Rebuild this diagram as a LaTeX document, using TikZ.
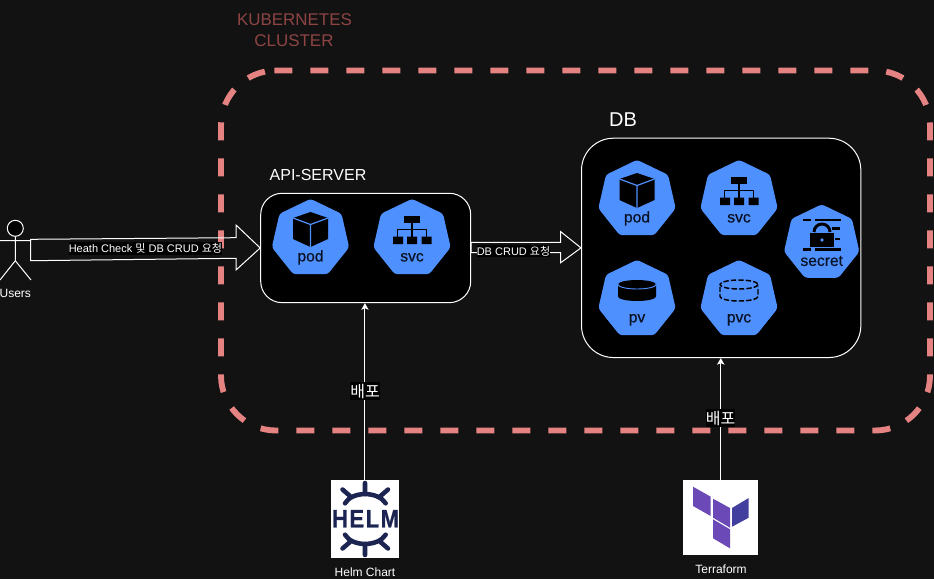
\documentclass[tikz,border=0pt]{standalone}
\usepackage{fontspec}
\setmainfont{Liberation Sans}
\newfontfamily\krfont{Noto Sans CJK KR}
\newfontfamily\helmfont[LetterSpace=7,FakeBold=0.8]{Liberation Sans Bold}
\newfontfamily\kubefont[FakeBold=0.7]{Liberation Sans}
\usetikzlibrary{shapes.geometric,arrows.meta,calc}
\definecolor{bgdark}{HTML}{121212}
\definecolor{kubeblue}{HTML}{4F90FF}
\definecolor{kubeink}{HTML}{0A1226}
\definecolor{clusterdash}{HTML}{E58282}
\definecolor{clustertext}{HTML}{8F4444}
\definecolor{helmnavy}{HTML}{1C2452}
\definecolor{tfpurple}{HTML}{6B4AB8}
\definecolor{tfdark}{HTML}{423F9E}
\tikzset{
  x=.75pt,y=-.75pt,
  panel/.style={draw=white,line width=.75pt,fill=black,rounded corners=#1},
  hept/.style={regular polygon,regular polygon sides=7,minimum size=59.5pt,inner sep=0pt,outer sep=0pt,fill=kubeblue,rounded corners=2.2pt},
  kubelabel/.style={text=kubeink,font=\kubefont\fontsize{11.7}{13}\selectfont,text height=.72em,text depth=.21em,inner sep=0pt},
  caption/.style={text=white,font=\fontsize{9}{11}\selectfont,inner sep=0pt},
  title/.style={text=white,inner sep=0pt},
  flowlabel/.style={text=white,fill=black,inner xsep=0pt,inner ysep=1pt,font=\fontsize{8.25}{10}\selectfont},
  deploy/.style={text=white,fill=black,inner xsep=0pt,inner ysep=1pt,font=\krfont\fontsize{12}{14}\selectfont},
  flow/.style={draw=white,line width=.75pt,line join=miter},
  deployline/.style={draw=white,line width=.75pt,-{Stealth[length=5pt,width=5.5pt,inset=1.2pt]}},
  logobox/.style={fill=white,draw=none,inner sep=0pt,outer sep=0pt},
  helmline/.style={draw=helmnavy,line width=3.4pt,line cap=round},
  seam/.style={draw=kubeblue,line width=.9pt},
}
\newcommand{\hepta}[5][]{%
  \node[hept,#1] (#2) at (#3,#4) {};
  \node[kubelabel] (#2label) at ($(#2.center)+(0,19.5)$) {#5};
}
\newcommand{\podicon}[2]{\begin{scope}[shift={(#1,#2)}]
  \fill[black] (0,-26.5) -- (17.5,-20.5) -- (17.5,0.5) -- (0,8.5) -- (-17.5,0.5) -- (-17.5,-20.5) -- cycle;
  \draw[seam] (-17.5,-20.5) -- (0,-14) -- (17.5,-20.5) (0,-14) -- (0,8.5);
\end{scope}}
\newcommand{\svcicon}[2]{\begin{scope}[shift={(#1,#2)}]
  \fill[black] (-8.3,-23) rectangle (8.3,-16);
  \fill[black] (-19,-2) rectangle (-9,5.5) (-5,-2) rectangle (5,5.5) (9.5,-2) rectangle (19.5,5.5);
  \draw[black,line width=1pt] (0,-16) -- (0,-2) (-14.5,-2) -- (-14.5,-9) -- (14.5,-9) -- (14.5,-2);
\end{scope}}
\newcommand{\pvicon}[2]{\begin{scope}[shift={(#1,#2)}]
  \fill[black] (-19,-15) -- (-19,-3) arc[start angle=180,end angle=0,x radius=19,y radius=4.5] -- (19,-15) arc[start angle=0,end angle=-180,x radius=19,y radius=4.5] -- cycle;
  \draw[seam,line width=.7pt] (-19,-15) arc[start angle=180,end angle=0,x radius=19,y radius=4.5];
\end{scope}}
\newcommand{\pvcicon}[2]{\begin{scope}[shift={(#1,#2)}]
  \draw[black,line width=1.1pt,dash pattern=on 4pt off 1.6pt] (0,-15) ellipse[x radius=19,y radius=4.5];
  \draw[black,line width=1.1pt,dash pattern=on 4pt off 1.6pt] (-19,-13) -- (-19,-3) arc[start angle=180,end angle=0,x radius=19,y radius=4.5] -- (19,-13);
\end{scope}}
\begin{document}
\begin{tikzpicture}
\useasboundingbox (0,0) rectangle (934,579);
\fill[bgdark] (0,0) rectangle (934,579);

% cluster
\draw[clusterdash,line width=4.4pt,dash pattern=on 13.5pt off 13.5pt]
  (274.3,70.5) -- (875,70.5) arc[start angle=-90,end angle=0,radius=55]
  -- (930,375.5) arc[start angle=0,end angle=90,radius=55]
  -- (276,430.5) arc[start angle=90,end angle=180,radius=55]
  -- (221,125.5) arc[start angle=180,end angle=270,radius=55] -- (274.3,70.5);
\node[text=clustertext,font=\fontsize{12.7}{15}\selectfont,inner sep=0pt] (clusterA) at (294.5,20) {KUBERNETES};
\node[text=clustertext,font=\fontsize{12.7}{15}\selectfont,inner sep=0pt] (clusterB) at (294,41) {CLUSTER};

% panels
\node[panel=16pt,minimum width=157.5pt,minimum height=82pt,inner sep=0pt,anchor=north west] (api) at (260.2,192.8) {};
\node[panel=24pt,minimum width=209.5pt,minimum height=164.5pt,inner sep=0pt,anchor=north west] (db) at (581,137.7) {};
\node[title,font=\fontsize{12}{13}\selectfont] (apititle) at (318,175) {API-SERVER};
\node[title,font=\fontsize{15}{17}\selectfont] (dbtitle) at (623,120) {DB};

% API icons
\hepta{apipod}{310.5}{238.5}{pod}\podicon{310.5}{238.5}
\hepta{apisvc}{412}{238.5}{svc}\svcicon{412}{238.5}
% DB icons
\hepta{dbpod}{637}{199.5}{pod}\podicon{637}{199.5}
\hepta{dbsvc}{739}{199.5}{svc}\svcicon{739}{199.5}
\hepta{dbpv}{637}{299.5}{pv}\pvicon{637}{299.5}
\hepta{dbpvc}{739}{299.5}{pvc}\pvcicon{739}{299.5}
\hepta[minimum size=58pt]{dbsecret}{821.7}{243}{secret}
% secret glyph
\fill[black] (810,233) rectangle (834,247.2);
\fill[kubeblue] (822,240) circle[radius=1.8];
\draw[black,line width=2.2pt] (814,232) arc[start angle=180,end angle=360,radius=8];
\draw[black,line width=2.2pt] (802.7,220) -- (810.7,220) (815,220) -- (840.7,220)
  (802.7,249.5) -- (810.7,249.5) (815,249.5) -- (840.7,249.5)
  (832,228.5) -- (840,228.5) (835,239) -- (840,239);

% users
\coordinate (head) at (15.3,228.3);
\node[draw=white,fill=black,line width=.75pt,circle,minimum size=12pt,inner sep=0pt] (userhead) at (head) {};
\coordinate (hip) at (15.3,260.7);
\coordinate (armL) at (0,240.7);
\coordinate (armR) at (31,240.7);
\coordinate (legL) at (0,280);
\coordinate (legR) at (31,280);
\draw[white,line width=.75pt] (userhead.south) -- (hip) (armL) -- (armR) (legL) -- (hip) -- (legR);
\node[caption] (users) at (15.3,293.7) {Users};

% big flow arrows
\coordinate (usertail) at (30.7,250);
\draw[flow] ($(usertail)+(0,-10.7)$) -- (236,237.7) -- (236,225) -- (api.west) -- (236,270) -- (236,258.3) -- ($(usertail)+(0,10.7)$) -- cycle;
\node[flowlabel] (flowA) at (145.4,248.3) {Heath Check {\krfont 및} DB CRUD {\krfont 요청}};
\draw[flow] (api.east |- 0,242.3) -- (560.7,242.3) -- (560.7,231.7) -- (db.west) -- (560.7,262.7) -- (560.7,252.7) -- (api.east |- 0,252.7) -- cycle;
\node[flowlabel] (flowB) at (513.5,251) {DB CRUD {\krfont 요청}};

% logos
\node[logobox,minimum width=50.6pt,minimum height=58.3pt,anchor=north west] (helm) at (331.2,480) {};
\node[logobox,minimum width=56.2pt,minimum height=56.2pt,anchor=north west] (tf) at (683.3,480) {};

\draw[deployline] (helm.north) -- (helm.north |- api.south);
\draw[deployline] (tf.north) -- (tf.north |- db.south);
\node[deploy] (deployA) at (365,391) {배포};
\node[deploy] (deployB) at (720.5,418) {배포};

% helm logo
\node[text=helmnavy,font=\helmfont\fontsize{16.5}{20}\selectfont,inner sep=0pt] (helmword) at (365.5,518.7) {\scalebox{1}[1.14]{HELM}};
\draw[helmline] (365,483) -- (365,494) (342.5,489.5) -- (350,496) (388,489.5) -- (380.5,496);
\draw[helmline] (345,503.3) .. controls (352,491) and (378,491) .. (385.7,503.3);
\draw[helmline] (365,555) -- (365,544) (342.5,548.5) -- (350,542) (388,548.5) -- (380.5,542);
\draw[helmline] (345,534.7) .. controls (352,547) and (378,547) .. (385.7,534.7);

% terraform logo
\fill[tfpurple] (693,486.7) -- (710.7,496.7) -- (710.7,516) -- (693,506) -- cycle;
\fill[tfpurple] (713,498.7) -- (730,508) -- (730,527.7) -- (713,517.7) -- cycle;
\fill[tfdark] (732,508) -- (748.7,498) -- (748.7,517.7) -- (732,526.7) -- cycle;
\fill[tfpurple] (713,519.3) -- (730,529.3) -- (730,548.3) -- (713,538.3) -- cycle;

\node[caption] (helmcap) at (365,572) {Helm Chart};
\node[caption] (tfcap) at (721,569) {Terraform};
\end{tikzpicture}
\end{document}
